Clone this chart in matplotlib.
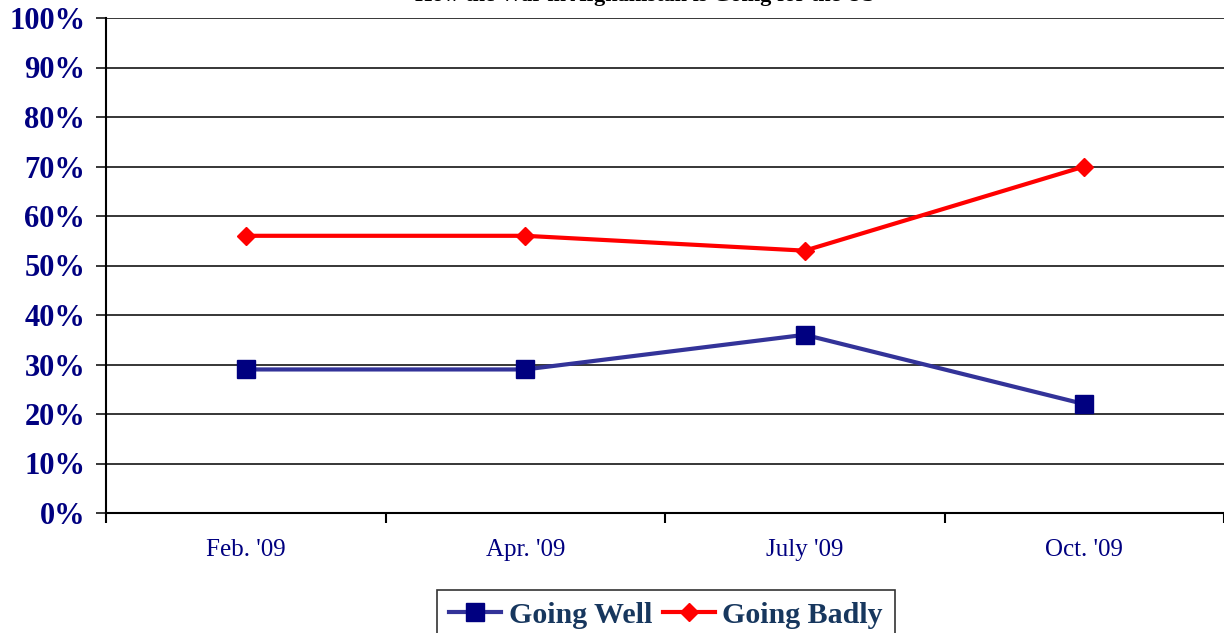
#!/usr/bin/env python3
# -*- coding: utf-8 -*-
import matplotlib
matplotlib.use('Agg')
import matplotlib.pyplot as plt
from matplotlib.ticker import FixedLocator

plt.rcParams['font.family'] = ['Liberation Serif', 'DejaVu Serif']

# data
months = ["Feb. '09", "Apr. '09", "July '09", "Oct. '09"]
going_well = [29, 29, 36, 22]
going_badly = [56, 56, 53, 70]
y_ticks = [0, 10, 20, 30, 40, 50, 60, 70, 80, 90, 100]

fig = plt.figure(figsize=(12.24, 6.33), dpi=100)
ax = fig.add_axes([106 / 1224, 1 - 513 / 633, 1 - 106 / 1224, (513 - 18) / 633])

x = list(range(len(months)))
ax.plot(x, going_well, color='#333399', lw=3, marker='s', ms=13,
        mfc='#000080', mec='#000080', label='Going Well', zorder=3)
ax.plot(x, going_badly, color='#FF0000', lw=3, marker='D', ms=9,
        mfc='#FF0000', mec='#FF0000', label='Going Badly', zorder=3)

ax.set_xlim(-0.5, len(months) - 0.5)
ax.set_ylim(0, 100)

ax.set_yticks(y_ticks)
ax.set_yticklabels(['%d%%' % v for v in y_ticks], fontsize=22, fontweight='bold',
                   color='#000080')
ax.yaxis.grid(True, color='black', lw=1.1)
ax.tick_params(axis='y', length=7, width=1.1, pad=8, direction='out')

# category borders get the ticks, labels sit in the middle
ax.xaxis.set_major_locator(FixedLocator([i - 0.5 for i in range(len(months) + 1)]))
ax.set_xticklabels([])
ax.set_xticks(x, minor=True)
ax.set_xticklabels(months, minor=True, fontsize=18, color='#000080')
ax.tick_params(axis='x', which='major', length=7, width=1.5, direction='out')
ax.tick_params(axis='x', which='minor', length=0, pad=19)

for s in ['top', 'right']:
    ax.spines[s].set_visible(False)
ax.spines['left'].set_linewidth(1.5)
ax.spines['bottom'].set_linewidth(1.5)

fig.text(645 / 1224, 1 - 0.5 / 633, 'How the War in Afghanistan is Going for the US',
         ha='center', va='baseline', fontsize=16, fontweight='bold')

leg = fig.legend(loc='upper center', bbox_to_anchor=(666 / 1224, 1 - 590 / 633),
                 ncol=2, frameon=True, fancybox=False, handlelength=1.75,
                 handletextpad=0.25, columnspacing=0.35, borderpad=0.4,
                 borderaxespad=0, prop={'size': 21.5, 'weight': 'bold'})
leg.get_frame().set_edgecolor('black')
leg.get_frame().set_linewidth(1.2)
for t in leg.get_texts():
    t.set_color('#17375E')

plt.savefig('out.png', dpi=100)
plt.close()
